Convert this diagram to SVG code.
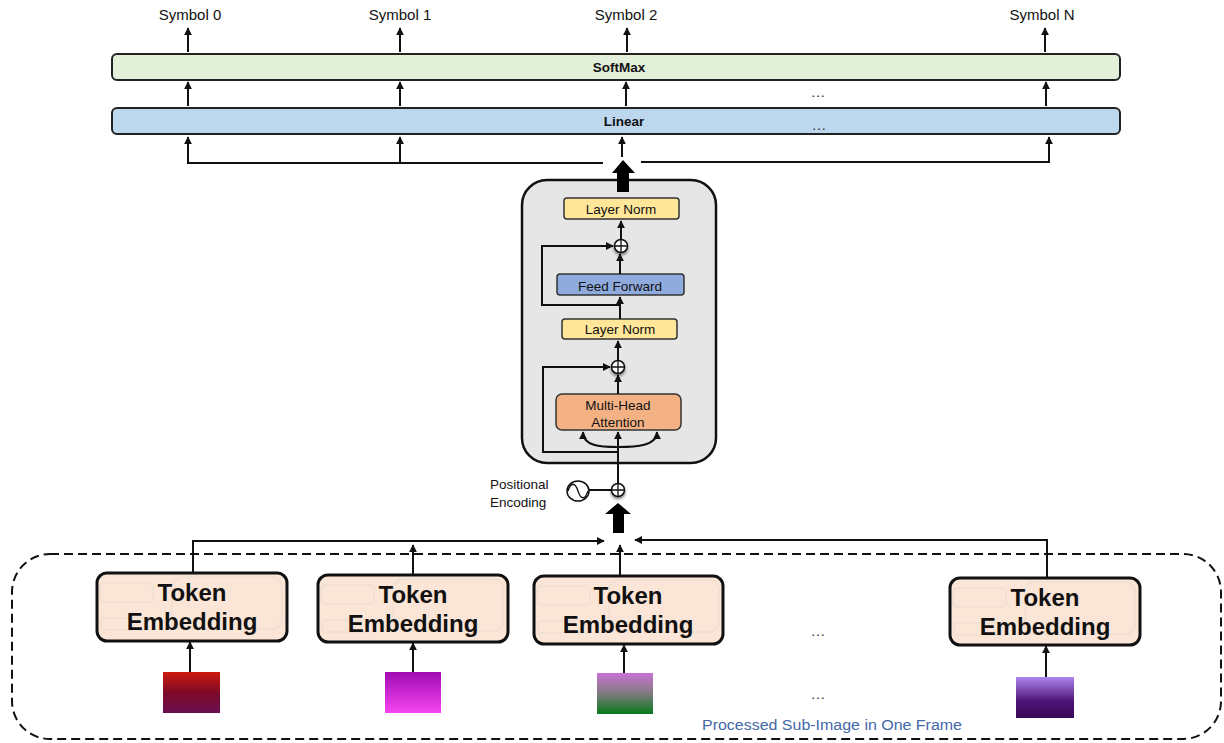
<svg xmlns="http://www.w3.org/2000/svg" width="1224" height="743" viewBox="0 0 1224 743">
<style>
text{font-family:"Liberation Sans",Arial,sans-serif;fill:#111}
.lbl{font-size:15px;text-anchor:middle}
.bar{stroke:#222;stroke-width:2}
.bt{font-size:13.5px;font-weight:bold;text-anchor:middle}
.ib{stroke:#333;stroke-width:1.5}
.it{font-size:13.5px;text-anchor:middle}
.tok{fill:#fbe5d6;stroke:#111;stroke-width:3}
.tt{font-size:24px;font-weight:bold;text-anchor:middle}
.ar{fill:none;stroke:#111;stroke-width:2;marker-end:url(#ah)}
.ln{fill:none;stroke:#111;stroke-width:2}
.dots{font-size:15px;text-anchor:middle;fill:#333}
.ghost{fill:none;stroke:#f1e0d4;stroke-width:2}
</style>
<defs>
<marker id="ah" viewBox="0 0 10 10" refX="9" refY="5" markerWidth="8" markerHeight="8" markerUnits="userSpaceOnUse" orient="auto"><path d="M0,0 L10,5 L0,10 z" fill="#111"/></marker>
<filter id="sh" x="-50%" y="-50%" width="200%" height="200%"><feGaussianBlur in="SourceAlpha" stdDeviation="1.5"/><feOffset dx="0" dy="2" result="b"/><feComponentTransfer><feFuncA type="linear" slope="0.5"/></feComponentTransfer><feMerge><feMergeNode/><feMergeNode in="SourceGraphic"/></feMerge></filter>
<g id="ghost">
<rect class="ghost" x="3" y="10" width="53" height="19" rx="4"/>
<rect class="ghost" x="4" y="45" width="52" height="12" rx="3"/>
<rect class="ghost" x="75" y="4" width="110" height="52" rx="10"/>
</g>
<g id="oplus">
<circle r="6.5" fill="#fff" stroke="#111" stroke-width="1.5"/>
<path d="M-6.5,0 H6.5 M0,-6.5 V6.5" stroke="#111" stroke-width="1.3"/>
</g>
<linearGradient id="g1" x1="0" y1="0" x2="0" y2="1"><stop offset="0" stop-color="#cc1a0e"/><stop offset="0.5" stop-color="#7e0a26"/><stop offset="1" stop-color="#6a1052"/></linearGradient>
<linearGradient id="g2" x1="0" y1="0" x2="0" y2="1"><stop offset="0" stop-color="#a00cb0"/><stop offset="1" stop-color="#f545f2"/></linearGradient>
<linearGradient id="g3" x1="0" y1="0" x2="0" y2="1"><stop offset="0" stop-color="#c872d6"/><stop offset="0.45" stop-color="#8a7a88"/><stop offset="1" stop-color="#087a1c"/></linearGradient>
<linearGradient id="g4" x1="0" y1="0" x2="0" y2="1"><stop offset="0" stop-color="#ad85ee"/><stop offset="0.6" stop-color="#4d1276"/><stop offset="1" stop-color="#3a0858"/></linearGradient>
</defs>
<rect width="1224" height="743" fill="#fff"/>

<g id="labels">
<text class="lbl" x="190" y="20">Symbol 0</text>
<text class="lbl" x="400" y="20">Symbol 1</text>
<text class="lbl" x="626" y="20">Symbol 2</text>
<text class="lbl" x="1042" y="20">Symbol N</text>
</g>

<g id="softmax">
<rect class="bar" x="112" y="54" width="1008" height="26" rx="5" fill="#e2efd9"/>
<text class="bt" x="619" y="72">SoftMax</text>
</g>
<g id="linear">
<rect class="bar" x="112" y="108" width="1008" height="26" rx="5" fill="#bdd7ee"/>
<text class="bt" x="624" y="126">Linear</text>
<text class="dots" x="819" y="130">…</text>
</g>
<text class="dots" x="818" y="97">…</text>

<g id="encoder">
<rect x="522" y="180" width="194" height="283" rx="25" fill="#e6e6e6" stroke="#111" stroke-width="2.5"/>
<g id="ln1"><rect class="ib" x="564" y="198" width="115" height="21" rx="3" fill="#ffe699"/><text class="it" x="621" y="213.5">Layer Norm</text></g>
<g id="ff"><rect class="ib" x="557" y="274" width="127" height="21" rx="3" fill="#8faadc"/><text class="it" x="620" y="291">Feed Forward</text></g>
<g id="ln2"><rect class="ib" x="562" y="319" width="115" height="20" rx="3" fill="#ffe699"/><text class="it" x="620" y="334">Layer Norm</text></g>
<g id="mha"><rect class="ib" x="556" y="394" width="125" height="36" rx="6" fill="#f4b183"/><text class="it" x="618" y="410">Multi-Head</text><text class="it" x="618" y="427">Attention</text></g>
</g>

<g id="pe">
<text x="490" y="489" font-size="13.5">Positional</text>
<text x="490" y="507" font-size="13.5">Encoding</text>
<ellipse cx="578" cy="491" rx="11" ry="10" fill="#fff" stroke="#111" stroke-width="1.5"/>
<path d="M568,491 C571,482 575,482 578,491 C581,500 585,500 588,491" fill="none" stroke="#111" stroke-width="1.3"/>
</g>

<g id="connectors">
<line class="ar" x1="188" y1="52" x2="188" y2="28"/>
<line class="ar" x1="400" y1="52" x2="400" y2="28"/>
<line class="ar" x1="627" y1="52" x2="627" y2="28"/>
<line class="ar" x1="1045" y1="52" x2="1045" y2="28"/>
<line class="ar" x1="188" y1="106" x2="188" y2="82"/>
<line class="ar" x1="400" y1="106" x2="400" y2="82"/>
<line class="ar" x1="626" y1="106" x2="626" y2="82"/>
<line class="ar" x1="1046" y1="106" x2="1046" y2="82"/>
<path class="ln" d="M188,163 H603"/>
<path class="ar" d="M188,164 V137"/>
<path class="ar" d="M400,164 V137"/>
<path class="ln" d="M641,162 H1050"/>
<path class="ar" d="M1049,163 V137"/>
<line class="ar" x1="622" y1="157" x2="622" y2="137"/>
<polygon points="612,173 623,160 635,173 629,173 629,192 617,192 617,173" fill="#000"/>
<line class="ar" x1="621" y1="239" x2="621" y2="221"/>
<line class="ar" x1="620" y1="274" x2="620" y2="254"/>
<path class="ar" d="M620,305 H542 V246 H613"/>
<line class="ar" x1="620" y1="319" x2="620" y2="297"/>
<line class="ar" x1="618" y1="360" x2="618" y2="341"/>
<line class="ar" x1="618" y1="394" x2="618" y2="375"/>
<path class="ar" d="M618,452 H543 V367 H610"/>
<line class="ar" x1="618" y1="483" x2="618" y2="432"/>
<path class="ar" d="M618,447 C600,447 583,446 583,432"/>
<path class="ar" d="M618,447 C636,447 657,446 657,432"/>
<line class="ln" x1="589" y1="490" x2="611" y2="490" stroke-width="1.3"/>
<polygon points="605,514 618,503 631,514 624,514 624,533 613,533 613,514" fill="#000"/>
<path class="ar" d="M193,573 V541 H604"/>
<line class="ar" x1="413" y1="575" x2="413" y2="545"/>
<line class="ar" x1="620" y1="575" x2="620" y2="545"/>
<path class="ar" d="M1047,578 V540 H635"/>
<line class="ar" x1="190" y1="672" x2="190" y2="642"/>
<line class="ar" x1="413" y1="672" x2="413" y2="643"/>
<line class="ar" x1="624" y1="673" x2="624" y2="645"/>
<line class="ar" x1="1046" y1="677" x2="1046" y2="646"/>
</g>

<g id="plus-nodes" filter="url(#sh)">
<use href="#oplus" x="621" y="246"/>
<use href="#oplus" x="618" y="367"/>
<use href="#oplus" x="618" y="490"/>
</g>

<g id="frame">
<rect x="12" y="554" width="1209" height="185" rx="38" fill="none" stroke="#111" stroke-width="2" stroke-dasharray="9 5"/>
<text x="702" y="730" font-size="15.5" textLength="260" lengthAdjust="spacingAndGlyphs" style="fill:#4468a8">Processed Sub-Image in One Frame</text>
<text class="dots" x="818" y="636">…</text>
<text class="dots" x="818" y="699">…</text>
</g>

<g id="tok1"><rect class="tok" x="97" y="573" width="190" height="68" rx="10"/><use href="#ghost" x="97" y="573"/><text class="tt" x="192" y="601">Token</text><text class="tt" x="192" y="630">Embedding</text></g>
<g id="tok2"><rect class="tok" x="318" y="575" width="190" height="67" rx="10"/><use href="#ghost" x="318" y="575"/><text class="tt" x="413" y="603">Token</text><text class="tt" x="413" y="632">Embedding</text></g>
<g id="tok3"><rect class="tok" x="534" y="576" width="189" height="68" rx="10"/><use href="#ghost" x="534" y="576"/><text class="tt" x="628" y="604">Token</text><text class="tt" x="628" y="633">Embedding</text></g>
<g id="tok4"><rect class="tok" x="950" y="578" width="190" height="67" rx="10"/><use href="#ghost" x="950" y="578"/><text class="tt" x="1045" y="606">Token</text><text class="tt" x="1045" y="635">Embedding</text></g>

<g id="img1"><rect x="163" y="672" width="57" height="41" fill="url(#g1)"/></g>
<g id="img2"><rect x="385" y="672" width="56" height="41" fill="url(#g2)"/></g>
<g id="img3"><rect x="597" y="673" width="56" height="41" fill="url(#g3)"/></g>
<g id="img4"><rect x="1016" y="677" width="58" height="41" fill="url(#g4)"/></g>
</svg>
